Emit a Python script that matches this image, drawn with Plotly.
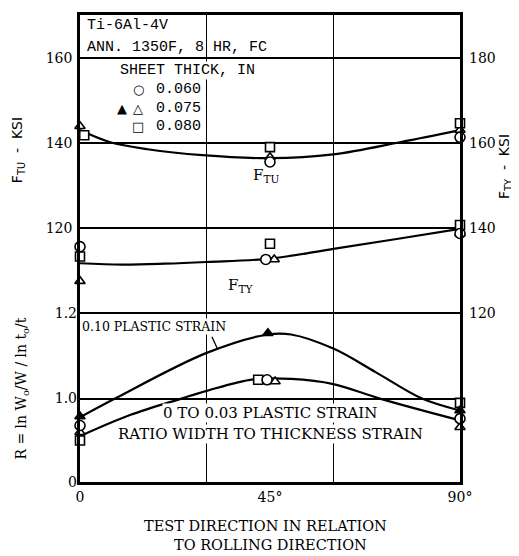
import plotly.graph_objects as go

# ---------------- data ----------------
X_TICK_DEG = [0, 45, 90]
X_TICK_TEXT = ["0", "45°", "90°"]
X_GRID_DEG = [30, 60]

FTU_TICKS = [100, 120, 140, 160]
FTU_TICK_TEXT = ["", "120", "140", "160"]
FTY_TICKS = [120, 140, 160, 180]
FTY_TICK_TEXT = ["120", "140", "160", "180"]
R_TICKS = [0.805, 1.0, 1.2]          # bottom of broken axis labelled "0"
R_TICK_TEXT = ["0", "1.0", "1.2"]

FTU_RANGE = [60.3, 170.04]
FTY_RANGE = [80.3, 190.04]
R_RANGE = [0.8047, 1.898]

# fitted curves
FTU_CURVE_DEG = [0, 7, 16, 29, 45, 60, 76, 90]
FTU_CURVE_KSI = [143.0, 140.2, 138.5, 137.1, 136.4, 137.3, 140.2, 143.0]

FTY_CURVE_DEG = [0, 10, 20, 30, 45, 60, 75, 90]
FTY_CURVE_KSI = [131.7, 131.4, 131.6, 132.0, 132.8, 135.1, 137.4, 139.8]

R10_CURVE_DEG = [0, 8.3, 30, 44.5, 50, 60, 70, 81, 90]
R10_CURVE = [0.956, 1.0, 1.107, 1.150, 1.150, 1.117, 1.062, 1.0, 0.972]

R03_CURVE_DEG = [0, 12, 24, 30, 41, 50, 60, 71, 90]
R03_CURVE = [0.912, 0.962, 1.0, 1.018, 1.045, 1.046, 1.034, 1.0, 0.949]

# test points: sheet thickness 0.060 (circle), 0.075 (triangle), 0.080 (square)
FTU_060_DEG = [-1, 45, 90]
FTU_060 = [141.8, 135.5, 141.3]
FTU_075_DEG = [0, 45, 90]
FTU_075 = [143.9, 136.6, 143.0]
FTU_080_DEG = [1, 45, 90]
FTU_080 = [141.8, 139.0, 144.6]

FTY_060_DEG = [0, 44, 90]
FTY_060 = [135.6, 132.6, 138.7]
FTY_075_DEG = [0, 46, 90]
FTY_075 = [127.5, 132.6, 138.7]
FTY_080_DEG = [0, 45, 90]
FTY_080 = [133.3, 136.3, 140.7]

R10_075_DEG = [0, 44.5, 90]
R10_075 = [0.958, 1.153, 0.972]

R03_060_DEG = [0, 44.3, 90]
R03_060 = [0.937, 1.044, 0.953]
R03_075_DEG = [0, 46.2, 90]
R03_075 = [0.921, 1.040, 0.933]
R03_080_DEG = [0, 42.2, 90]
R03_080 = [0.902, 1.044, 0.990]

# ---------------- figure ----------------
SERIF = "DejaVu Serif"
MONO = "Liberation Mono"
BLACK = "black"
PAGE_MARGIN = 8   # browser default body margin

fig = go.Figure()


def curve(x, y, axis):
    fig.add_trace(go.Scatter(x=x, y=y, yaxis=axis, mode="lines",
                             line=dict(color=BLACK, width=2.2, shape="spline", smoothing=1.0),
                             cliponaxis=False, showlegend=False, hoverinfo="skip"))


def points(x, y, axis, symbol):
    filled = symbol.endswith("-filled")
    sym = symbol.replace("-filled", "")
    fig.add_trace(go.Scatter(x=x, y=y, yaxis=axis, mode="markers",
                             marker=dict(symbol=sym, size=10 if "circle" in sym else 9,
                                         color=BLACK if filled else "white",
                                         line=dict(color=BLACK, width=1.6)),
                             cliponaxis=False, showlegend=False, hoverinfo="skip"))


curve(FTU_CURVE_DEG, FTU_CURVE_KSI, "y")
points(FTU_075_DEG, FTU_075, "y", "triangle-up")
points(FTU_080_DEG, FTU_080, "y", "square")
points(FTU_060_DEG, FTU_060, "y", "circle")

curve(FTY_CURVE_DEG, FTY_CURVE_KSI, "y2")
points(FTY_075_DEG, FTY_075, "y2", "triangle-up")
points(FTY_080_DEG, FTY_080, "y2", "square")
points(FTY_060_DEG, FTY_060, "y2", "circle")

curve(R10_CURVE_DEG, R10_CURVE, "y3")
curve(R03_CURVE_DEG, R03_CURVE, "y3")
points(R03_080_DEG, R03_080, "y3", "square")
points(R03_075_DEG, R03_075, "y3", "triangle-up")
points(R03_060_DEG, R03_060, "y3", "circle")
points(R10_075_DEG, R10_075, "y3", "triangle-up-filled")

tickfont = dict(family=SERIF, size=14, color=BLACK)

fig.update_layout(
    width=519 - PAGE_MARGIN, height=556 - PAGE_MARGIN, autosize=False,
    margin=dict(l=80 - PAGE_MARGIN, r=59, t=12 - PAGE_MARGIN, b=74),
    paper_bgcolor="white", plot_bgcolor="white",
    showlegend=False,
    xaxis=dict(range=[0, 90], tickvals=X_TICK_DEG, ticktext=X_TICK_TEXT,
               showgrid=False, zeroline=False, ticks="", tickfont=tickfont,
               showline=True, mirror=True, linecolor=BLACK, linewidth=2.5,
               minor=dict(tickmode="array", tickvals=X_GRID_DEG, showgrid=True,
                          gridcolor=BLACK, gridwidth=1.3, ticks="")),
    yaxis=dict(range=FTU_RANGE, tickvals=FTU_TICKS, ticktext=FTU_TICK_TEXT,
               showgrid=True, gridcolor=BLACK, gridwidth=1.8, zeroline=False,
               ticks="", tickfont=tickfont, ticklabelstandoff=2,
               showline=True, mirror=True, linecolor=BLACK, linewidth=2.5),
    yaxis2=dict(range=FTY_RANGE, tickvals=FTY_TICKS, ticktext=FTY_TICK_TEXT,
                overlaying="y", side="right", showgrid=False, zeroline=False,
                ticks="", tickfont=tickfont, ticklabelstandoff=8, showline=False),
    yaxis3=dict(range=R_RANGE, tickvals=R_TICKS, ticktext=R_TICK_TEXT,
                overlaying="y", side="left", showgrid=True, gridcolor=BLACK,
                gridwidth=1.8, zeroline=False, ticks="", tickfont=tickfont,
                ticklabelstandoff=2, showline=False),
)


def px_to_paper(px, py):
    return (px - 80) / 380.0, (482 - py) / 470.0


def text(s, px, py, size=14, family=SERIF, xanchor="center", angle=0, bg=None):
    x, y = px_to_paper(px, py)
    fig.add_annotation(x=x, y=y, xref="paper", yref="paper", text=s, showarrow=False,
                       xanchor=xanchor, yanchor="middle", textangle=angle,
                       font=dict(family=family, size=size, color=BLACK),
                       bgcolor=bg, borderpad=0)


# title block and legend
text("Ti-6Al-4V", 86, 23, size=15, family=MONO, xanchor="left")
text("ANN. 1350F, 8 HR, FC", 86, 45, size=15, family=MONO, xanchor="left")
text("SHEET THICK, IN", 119, 68, size=15, family=MONO, xanchor="left", bg="white")
text("0.060", 155, 87, size=15, family=MONO, xanchor="left", bg="white")
text("0.075", 155, 106, size=15, family=MONO, xanchor="left", bg="white")
text("0.080", 155, 124, size=15, family=MONO, xanchor="left", bg="white")
text("○", 138, 87, size=13, family="DejaVu Sans")
text("▲", 122, 106, size=13, family="DejaVu Sans")
text("△", 138, 106, size=13, family="DejaVu Sans")
text("□", 138, 124, size=13, family="DejaVu Sans")

# curve labels
text("F<sub>TU</sub>", 266, 174, size=15)
text("F<sub>TY</sub>", 240, 284, size=15)
text("0.10 PLASTIC STRAIN", 81, 325, size=12.5, xanchor="left", bg="white")
text("0 TO 0.03 PLASTIC STRAIN", 270, 413, size=15, bg="white")
text("RATIO WIDTH TO THICKNESS STRAIN", 270, 434, size=15, bg="white")

# axis titles
text("TEST DIRECTION IN RELATION", 265, 526, size=14.5)
text("TO ROLLING DIRECTION", 270, 545, size=14.5)
text("F<sub>TU</sub>  -  KSI", 18, 148, size=14, family="DejaVu Sans", angle=-90)
text("F<sub>TY</sub>  -  KSI", 505, 165, size=14, family="DejaVu Sans", angle=-90)
text("R = ln W<sub>o</sub>/W / ln t<sub>o</sub>/t", 22, 388, size=14, family=SERIF, angle=-90)

# leader from "0.10 PLASTIC STRAIN" to its curve
fig.add_annotation(x=32.5, y=1.118, xref="x", yref="y3", ax=-6, ay=-13,
                   showarrow=True, arrowhead=0, arrowwidth=1.3, arrowcolor=BLACK, text="")

fig.write_html("out.html")
